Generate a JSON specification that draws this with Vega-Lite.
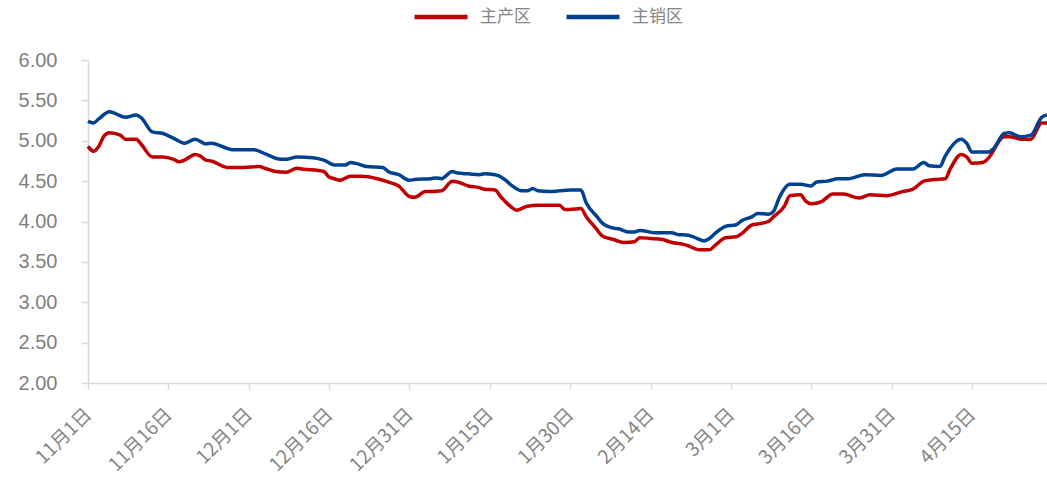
{
  "$schema": "https://vega.github.io/schema/vega-lite/v6.json",
  "width": 959,
  "height": 323,
  "autosize": {"type": "none"},
  "padding": {"left": 88, "top": 60, "right": 0, "bottom": 99},
  "background": "white",
  "config": {"view": {"stroke": null}},
  "datasets": {
    "blue": [
      {"d": "2024-11-01", "v": 5.24}, {"d": "2024-11-02", "v": 5.22}, {"d": "2024-11-03", "v": 5.27},
      {"d": "2024-11-05", "v": 5.36}, {"d": "2024-11-06", "v": 5.34}, {"d": "2024-11-08", "v": 5.29},
      {"d": "2024-11-10", "v": 5.32}, {"d": "2024-11-11", "v": 5.28}, {"d": "2024-11-13", "v": 5.11},
      {"d": "2024-11-15", "v": 5.09}, {"d": "2024-11-17", "v": 5.03}, {"d": "2024-11-19", "v": 4.97},
      {"d": "2024-11-21", "v": 5.02}, {"d": "2024-11-23", "v": 4.96}, {"d": "2024-11-24", "v": 4.97},
      {"d": "2024-11-28", "v": 4.89}, {"d": "2024-12-02", "v": 4.89}, {"d": "2024-12-04", "v": 4.84},
      {"d": "2024-12-07", "v": 4.77}, {"d": "2024-12-08", "v": 4.77}, {"d": "2024-12-10", "v": 4.80},
      {"d": "2024-12-13", "v": 4.79}, {"d": "2024-12-15", "v": 4.76}, {"d": "2024-12-17", "v": 4.70},
      {"d": "2024-12-19", "v": 4.70}, {"d": "2024-12-20", "v": 4.73}, {"d": "2024-12-21", "v": 4.72},
      {"d": "2024-12-23", "v": 4.68}, {"d": "2024-12-26", "v": 4.67}, {"d": "2024-12-27", "v": 4.62},
      {"d": "2024-12-29", "v": 4.58}, {"d": "2024-12-31", "v": 4.51}, {"d": "2025-01-01", "v": 4.52},
      {"d": "2025-01-04", "v": 4.53}, {"d": "2025-01-05", "v": 4.54}, {"d": "2025-01-06", "v": 4.53},
      {"d": "2025-01-08", "v": 4.62}, {"d": "2025-01-09", "v": 4.60}, {"d": "2025-01-11", "v": 4.59},
      {"d": "2025-01-13", "v": 4.58}, {"d": "2025-01-14", "v": 4.59}, {"d": "2025-01-16", "v": 4.58},
      {"d": "2025-01-18", "v": 4.51}, {"d": "2025-01-19", "v": 4.45}, {"d": "2025-01-21", "v": 4.38},
      {"d": "2025-01-22", "v": 4.38}, {"d": "2025-01-23", "v": 4.41}, {"d": "2025-01-24", "v": 4.38},
      {"d": "2025-01-26", "v": 4.37}, {"d": "2025-01-28", "v": 4.38}, {"d": "2025-01-30", "v": 4.39},
      {"d": "2025-02-01", "v": 4.39}, {"d": "2025-02-02", "v": 4.23}, {"d": "2025-02-04", "v": 4.06},
      {"d": "2025-02-05", "v": 3.98}, {"d": "2025-02-07", "v": 3.92}, {"d": "2025-02-08", "v": 3.91},
      {"d": "2025-02-10", "v": 3.87}, {"d": "2025-02-11", "v": 3.87}, {"d": "2025-02-12", "v": 3.89},
      {"d": "2025-02-15", "v": 3.86}, {"d": "2025-02-18", "v": 3.86}, {"d": "2025-02-19", "v": 3.84},
      {"d": "2025-02-21", "v": 3.83}, {"d": "2025-02-22", "v": 3.81}, {"d": "2025-02-24", "v": 3.76},
      {"d": "2025-02-25", "v": 3.79}, {"d": "2025-02-26", "v": 3.85}, {"d": "2025-02-28", "v": 3.94},
      {"d": "2025-03-02", "v": 3.96}, {"d": "2025-03-03", "v": 4.01}, {"d": "2025-03-05", "v": 4.06},
      {"d": "2025-03-06", "v": 4.10}, {"d": "2025-03-08", "v": 4.09}, {"d": "2025-03-09", "v": 4.13},
      {"d": "2025-03-10", "v": 4.29}, {"d": "2025-03-12", "v": 4.46}, {"d": "2025-03-14", "v": 4.46},
      {"d": "2025-03-16", "v": 4.44}, {"d": "2025-03-17", "v": 4.49}, {"d": "2025-03-19", "v": 4.50},
      {"d": "2025-03-21", "v": 4.53}, {"d": "2025-03-23", "v": 4.53}, {"d": "2025-03-26", "v": 4.58},
      {"d": "2025-03-29", "v": 4.57}, {"d": "2025-04-01", "v": 4.65}, {"d": "2025-04-04", "v": 4.65},
      {"d": "2025-04-06", "v": 4.73}, {"d": "2025-04-07", "v": 4.69}, {"d": "2025-04-09", "v": 4.68},
      {"d": "2025-04-10", "v": 4.81}, {"d": "2025-04-13", "v": 5.02}, {"d": "2025-04-14", "v": 4.97},
      {"d": "2025-04-15", "v": 4.86}, {"d": "2025-04-17", "v": 4.86}, {"d": "2025-04-18", "v": 4.86},
      {"d": "2025-04-19", "v": 4.90}, {"d": "2025-04-21", "v": 5.09}, {"d": "2025-04-22", "v": 5.10},
      {"d": "2025-04-24", "v": 5.05}, {"d": "2025-04-26", "v": 5.07}, {"d": "2025-04-28", "v": 5.29},
      {"d": "2025-04-29", "v": 5.32}
    ],
    "red": [
      {"d": "2024-11-01", "v": 4.93}, {"d": "2024-11-02", "v": 4.87}, {"d": "2024-11-03", "v": 4.93},
      {"d": "2024-11-04", "v": 5.06}, {"d": "2024-11-05", "v": 5.10}, {"d": "2024-11-07", "v": 5.07},
      {"d": "2024-11-08", "v": 5.02}, {"d": "2024-11-10", "v": 5.02}, {"d": "2024-11-11", "v": 4.95},
      {"d": "2024-11-13", "v": 4.80}, {"d": "2024-11-15", "v": 4.80}, {"d": "2024-11-17", "v": 4.77},
      {"d": "2024-11-18", "v": 4.74}, {"d": "2024-11-19", "v": 4.76}, {"d": "2024-11-21", "v": 4.83},
      {"d": "2024-11-22", "v": 4.81}, {"d": "2024-11-23", "v": 4.76}, {"d": "2024-11-24", "v": 4.75},
      {"d": "2024-11-27", "v": 4.67}, {"d": "2024-11-30", "v": 4.67}, {"d": "2024-12-03", "v": 4.68},
      {"d": "2024-12-04", "v": 4.66}, {"d": "2024-12-06", "v": 4.62}, {"d": "2024-12-08", "v": 4.61},
      {"d": "2024-12-10", "v": 4.66}, {"d": "2024-12-11", "v": 4.65}, {"d": "2024-12-15", "v": 4.62},
      {"d": "2024-12-16", "v": 4.55}, {"d": "2024-12-17", "v": 4.53}, {"d": "2024-12-18", "v": 4.51},
      {"d": "2024-12-20", "v": 4.56}, {"d": "2024-12-22", "v": 4.56}, {"d": "2024-12-25", "v": 4.53},
      {"d": "2024-12-27", "v": 4.49}, {"d": "2024-12-29", "v": 4.44}, {"d": "2024-12-31", "v": 4.31},
      {"d": "2025-01-01", "v": 4.30}, {"d": "2025-01-03", "v": 4.37}, {"d": "2025-01-04", "v": 4.37},
      {"d": "2025-01-06", "v": 4.38}, {"d": "2025-01-08", "v": 4.50}, {"d": "2025-01-09", "v": 4.49},
      {"d": "2025-01-11", "v": 4.44}, {"d": "2025-01-13", "v": 4.42}, {"d": "2025-01-14", "v": 4.40},
      {"d": "2025-01-16", "v": 4.39}, {"d": "2025-01-17", "v": 4.31}, {"d": "2025-01-19", "v": 4.18},
      {"d": "2025-01-20", "v": 4.14}, {"d": "2025-01-22", "v": 4.19}, {"d": "2025-01-24", "v": 4.20},
      {"d": "2025-01-28", "v": 4.20}, {"d": "2025-01-29", "v": 4.15}, {"d": "2025-01-30", "v": 4.15},
      {"d": "2025-02-01", "v": 4.16}, {"d": "2025-02-02", "v": 4.06}, {"d": "2025-02-04", "v": 3.90},
      {"d": "2025-02-05", "v": 3.82}, {"d": "2025-02-07", "v": 3.78}, {"d": "2025-02-09", "v": 3.74},
      {"d": "2025-02-11", "v": 3.75}, {"d": "2025-02-12", "v": 3.80}, {"d": "2025-02-14", "v": 3.79},
      {"d": "2025-02-16", "v": 3.78}, {"d": "2025-02-18", "v": 3.74}, {"d": "2025-02-20", "v": 3.72},
      {"d": "2025-02-21", "v": 3.70}, {"d": "2025-02-23", "v": 3.65}, {"d": "2025-02-25", "v": 3.65},
      {"d": "2025-02-26", "v": 3.70}, {"d": "2025-02-28", "v": 3.80}, {"d": "2025-03-02", "v": 3.81},
      {"d": "2025-03-03", "v": 3.85}, {"d": "2025-03-05", "v": 3.96}, {"d": "2025-03-06", "v": 3.97},
      {"d": "2025-03-08", "v": 4.00}, {"d": "2025-03-09", "v": 4.06}, {"d": "2025-03-11", "v": 4.19},
      {"d": "2025-03-12", "v": 4.32}, {"d": "2025-03-14", "v": 4.33}, {"d": "2025-03-15", "v": 4.25},
      {"d": "2025-03-16", "v": 4.22}, {"d": "2025-03-18", "v": 4.25}, {"d": "2025-03-20", "v": 4.34},
      {"d": "2025-03-22", "v": 4.34}, {"d": "2025-03-25", "v": 4.29}, {"d": "2025-03-27", "v": 4.33},
      {"d": "2025-03-30", "v": 4.32}, {"d": "2025-04-02", "v": 4.37}, {"d": "2025-04-04", "v": 4.40},
      {"d": "2025-04-06", "v": 4.50}, {"d": "2025-04-08", "v": 4.52}, {"d": "2025-04-10", "v": 4.53},
      {"d": "2025-04-11", "v": 4.66}, {"d": "2025-04-13", "v": 4.83}, {"d": "2025-04-14", "v": 4.80},
      {"d": "2025-04-15", "v": 4.72}, {"d": "2025-04-17", "v": 4.73}, {"d": "2025-04-18", "v": 4.78},
      {"d": "2025-04-21", "v": 5.05}, {"d": "2025-04-22", "v": 5.05}, {"d": "2025-04-24", "v": 5.02},
      {"d": "2025-04-26", "v": 5.02}, {"d": "2025-04-28", "v": 5.22}, {"d": "2025-04-29", "v": 5.22}
    ]
  },
  "layer": [
    {
      "data": {"name": "red"},
      "transform": [{"calculate": "'主产区'", "as": "s"}],
      "mark": {"type": "line", "interpolate": "monotone", "strokeWidth": 3.5}
    },
    {
      "data": {"name": "blue"},
      "transform": [{"calculate": "'主销区'", "as": "s"}],
      "mark": {"type": "line", "interpolate": "monotone", "strokeWidth": 3.5}
    }
  ],
  "encoding": {
    "x": {
      "field": "d",
      "type": "temporal",
      "title": null,
      "scale": {
        "type": "utc",
        "domain": [
          {"year": 2024, "month": 11, "date": 1, "utc": true},
          {"year": 2025, "month": 4, "date": 29, "utc": true}
        ]
      },
      "axis": {
        "values": [
          {"year": 2024, "month": 11, "date": 1, "utc": true},
          {"year": 2024, "month": 11, "date": 16, "utc": true},
          {"year": 2024, "month": 12, "date": 1, "utc": true},
          {"year": 2024, "month": 12, "date": 16, "utc": true},
          {"year": 2024, "month": 12, "date": 31, "utc": true},
          {"year": 2025, "month": 1, "date": 15, "utc": true},
          {"year": 2025, "month": 1, "date": 30, "utc": true},
          {"year": 2025, "month": 2, "date": 14, "utc": true},
          {"year": 2025, "month": 3, "date": 1, "utc": true},
          {"year": 2025, "month": 3, "date": 16, "utc": true},
          {"year": 2025, "month": 3, "date": 31, "utc": true},
          {"year": 2025, "month": 4, "date": 15, "utc": true}
        ],
        "labelExpr": "utcFormat(datum.value, '%-m月%-d日')",
        "labelAngle": -45,
        "labelAlign": "right",
        "labelBaseline": "middle",
        "labelPadding": 22,
        "labelFont": "Noto Sans CJK SC",
        "labelFontSize": 19,
        "labelColor": "#858585",
        "labelOverlap": false,
        "labelFlush": false,
        "grid": false,
        "domainColor": "#d9d9d9",
        "domainWidth": 1.5,
        "tickColor": "#d9d9d9",
        "tickSize": 6,
        "tickWidth": 1.5
      }
    },
    "y": {
      "field": "v",
      "type": "quantitative",
      "title": null,
      "scale": {"domain": [2, 6], "zero": false, "nice": false},
      "axis": {
        "values": [2, 2.5, 3, 3.5, 4, 4.5, 5, 5.5, 6],
        "format": ".2f",
        "labelFont": "Liberation Sans",
        "labelFontSize": 20,
        "labelColor": "#7f7f7f",
        "labelPadding": 24,
        "grid": false,
        "domainColor": "#d9d9d9",
        "domainWidth": 1.5,
        "tickColor": "#d9d9d9",
        "tickSize": 7,
        "tickWidth": 1.5
      }
    },
    "color": {
      "field": "s",
      "type": "nominal",
      "title": null,
      "scale": {"domain": ["主产区", "主销区"], "range": ["#C00000", "#004190"]},
      "legend": {
        "orient": "none",
        "legendX": 324,
        "legendY": -72,
        "direction": "horizontal",
        "symbolType": "stroke",
        "symbolSize": 2809,
        "symbolStrokeWidth": 4.5,
        "labelFont": "Noto Sans CJK SC",
        "labelFontSize": 17,
        "labelColor": "#858585",
        "labelOffset": 10,
        "columnPadding": 26
      }
    }
  }
}
